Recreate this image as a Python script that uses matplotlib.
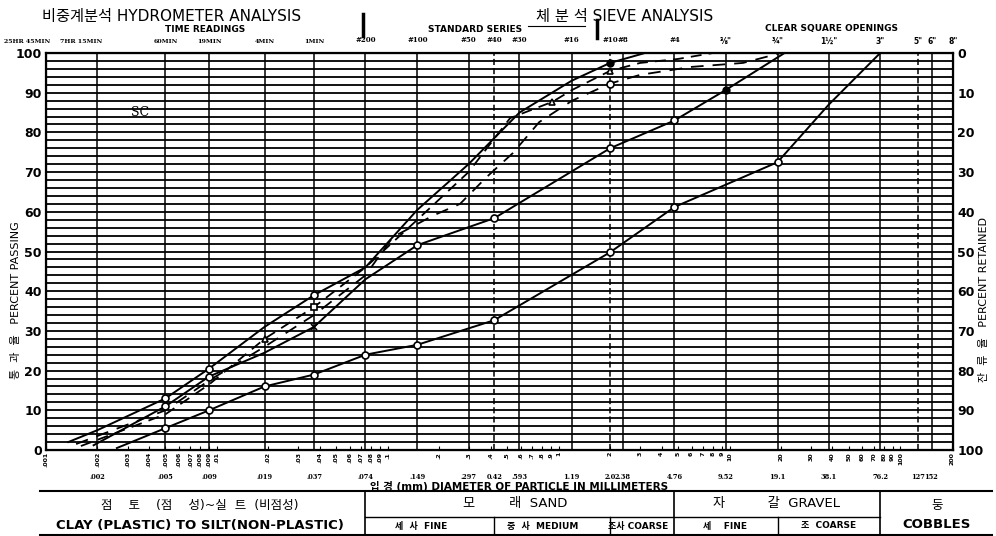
import numpy as np
import matplotlib.pyplot as plt
from matplotlib.lines import Line2D
from matplotlib.transforms import blended_transform_factory

plt.rcParams['font.family'] = ['DejaVu Sans', 'Noto Sans CJK KR']

W, H = 996, 536

# grain size curves: diameter (mm) -> percent passing
c1_d = [0.00135, 0.002, 0.005, 0.009, 0.019, 0.037, 0.074, 0.149, 0.297, 0.59, 1.19, 2.0, 3.2]
c1_p = [2, 5, 13, 20.5, 31, 39, 46, 60.5, 72, 85, 93, 97.5, 100]

c2_d = [0.0016, 0.005, 0.009, 0.019, 0.037, 0.074, 0.149, 0.297, 0.52, 0.92, 1.2, 2.0, 3.0, 5.0, 8.0]
c2_p = [1, 9, 16.5, 28, 36, 46, 58, 70, 83.6, 87.7, 90.7, 95.5, 97.5, 98.5, 100]

c3_d = [0.0015, 0.005, 0.009, 0.019, 0.037, 0.074, 0.107, 0.183, 0.265, 0.38, 0.54, 0.77,
        1.2, 2.0, 3.0, 6.0, 12.0, 20.0]
c3_p = [1.5, 10, 17.5, 26, 34, 44, 53.6, 59, 62, 68.8, 74.8, 82.6, 88, 92.3, 94.5, 96.5, 97.5, 100]

c4_d = [0.0019, 0.005, 0.009, 0.019, 0.037, 0.074, 0.149, 0.42, 2.0, 4.76, 9.52, 21]
c4_p = [1.2, 11, 18.5, 24.5, 31, 43, 51.6, 58.4, 76, 83, 90.7, 100]

c5_d = [0.0026, 0.005, 0.009, 0.019, 0.037, 0.074, 0.149, 0.42, 2.0, 4.76, 19.1, 38.1, 76.2]
c5_p = [0.5, 5.5, 10, 16, 19, 24, 26.5, 32.7, 49.8, 61.2, 72.5, 87, 100]

# marker indices on each curve
c1_mk = [2, 3, 5]
c1_filled = [11]
c2_tri = [3, 9, 11]
c2_sq = [4]
c3_mk = [13]
c4_mk = [1, 2, 6, 7, 8, 9]
c4_filled = [10]
c4_x = [4]
c5_mk = [1, 2, 3, 4, 5, 6, 7, 8, 9, 10]

# vertical grid lines (time readings / sieves / openings)
grid_d = [0.002, 0.005, 0.009, 0.019, 0.037, 0.074, 0.149, 0.297, 0.42, 0.59, 1.19, 2.0,
          2.38, 4.76, 9.52, 19.1, 38.1, 76.2, 127, 152.4]
dashed_d = [0.42, 2.0, 127]

time_d = [0.00078, 0.0016, 0.005, 0.009, 0.019, 0.037]
time_lbl = ['25HR 45MIN', '7HR 15MIN', '60MIN', '19MIN', '4MIN', '1MIN']
sieve_d = [0.074, 0.149, 0.297, 0.42, 0.59, 1.19, 2.0, 2.38, 4.76]
sieve_lbl = ['#200', '#100', '#50', '#40', '#30', '#16', '#10', '#8', '#4']
open_d = [9.52, 19.1, 38.1, 76.2, 127, 152.4, 203.2]
open_lbl = ['⅜"', '¾"', '1½"', '3"', '5"', '6"', '8"']

size_d = [0.002, 0.005, 0.009, 0.019, 0.037, 0.074, 0.149, 0.297, 0.42, 0.593, 1.19, 2.0,
          2.38, 4.76, 9.52, 19.1, 38.1, 76.2, 127, 152]
size_lbl = ['.002', '.005', '.009', '.019', '.037', '.074', '.149', '.297', '0.42', '.593',
            '1.19', '2.0', '2.38', '4.76', '9.52', '19.1', '38.1', '76.2', '127', '152']

fig = plt.figure(figsize=(W / 100, H / 100), dpi=100)
ax = fig.add_axes([46 / W, 1 - 450 / H, (953 - 46) / W, (450 - 53) / H])
ax.set_xscale('log')
ax.set_xlim(0.001, 203.2)
ax.set_ylim(0, 100)


def fx(x):
    return x / W


def fy(y):
    return 1 - y / H


for p in range(0, 101, 2):
    ax.axhline(p, color='k', lw=1.3, zorder=1)
for d in grid_d:
    ls = (0, (4, 2)) if d in dashed_d else '-'
    ax.axvline(d, color='k', lw=1.1, ls=ls, zorder=1)

for s in ax.spines.values():
    s.set_linewidth(1.6)

# log minor ticks with rotated labels
tk = []
for e in range(-3, 3):
    for m in range(1, 10):
        v = m * 10.0 ** e
        if v <= 203.2:
            tk.append(v)
lbls = [f'{v:g}'.lstrip('0') if v < 1 else f'{v:g}' for v in tk]
ax.xaxis.set_minor_locator(plt.NullLocator())
ax.set_xticks(tk)
ax.set_xticklabels(lbls, rotation=90, fontsize=4.5, fontweight='bold')
ax.tick_params(axis='x', direction='in', length=3, width=0.8, pad=1.5)

ax.set_yticks(range(0, 101, 10))
ax.set_yticklabels([str(v) for v in range(0, 101, 10)], fontsize=9, fontweight='bold')
ax.tick_params(axis='y', length=0, pad=3)

ax2 = ax.twinx()
ax2.set_ylim(100, 0)
ax2.set_yticks(range(0, 101, 10))
ax2.set_yticklabels([str(v) for v in range(0, 101, 10)], fontsize=9, fontweight='bold')
ax2.tick_params(axis='y', length=0, pad=3)

# curves
ax.plot(c1_d, c1_p, color='k', lw=1.4, zorder=3)
ax.plot(c2_d, c2_p, color='k', lw=1.3, ls=(0, (6, 4)), zorder=3)
ax.plot(c3_d, c3_p, color='k', lw=1.3, ls=(0, (7, 5)), zorder=3)
ax.plot(c4_d, c4_p, color='k', lw=1.4, zorder=3)
ax.plot(c5_d, c5_p, color='k', lw=1.4, zorder=3)

mk = dict(ls='none', mfc='white', mec='k', mew=1.2, ms=5, zorder=4)
ax.plot([c1_d[i] for i in c1_mk], [c1_p[i] for i in c1_mk], marker='o', **mk)
ax.plot([c1_d[i] for i in c1_filled], [c1_p[i] for i in c1_filled], marker='o',
        ls='none', color='k', ms=5, zorder=4)
ax.plot([c2_d[i] for i in c2_tri], [c2_p[i] for i in c2_tri], marker='^', **mk)
ax.plot([c2_d[i] for i in c2_sq], [c2_p[i] for i in c2_sq], marker='s', **mk)
ax.plot([c3_d[i] for i in c3_mk], [c3_p[i] for i in c3_mk], marker='o', **mk)
ax.plot([c4_d[i] for i in c4_mk], [c4_p[i] for i in c4_mk], marker='o', **mk)
ax.plot([c4_d[i] for i in c4_filled], [c4_p[i] for i in c4_filled], marker='o',
        ls='none', color='k', ms=5, zorder=4)
ax.plot([c4_d[i] for i in c4_x], [c4_p[i] for i in c4_x], marker='x', ls='none',
        color='k', ms=5, mew=1.2, zorder=4)
ax.plot([c5_d[i] for i in c5_mk], [c5_p[i] for i in c5_mk], marker='o', **mk)

ax.text(0.00354, 85, 'SC', fontsize=9, family='serif', ha='center', va='center')

# top labels
xt = ax.get_xaxis_transform()
for d, t in zip(time_d, time_lbl):
    ax.text(d, 1.022, t, transform=xt, ha='center', va='bottom', fontsize=4.5,
            family='serif', fontweight='bold', clip_on=False)
for d, t in zip(sieve_d, sieve_lbl):
    ax.text(d, 1.022, t, transform=xt, ha='center', va='bottom', fontsize=5,
            family='serif', fontweight='bold', clip_on=False)
for d, t in zip(open_d, open_lbl):
    ax.text(d, 1.018, t, transform=xt, ha='center', va='bottom', fontsize=5.5,
            fontweight='bold', clip_on=False)

# second row of diameters under the axis
for d, t in zip(size_d, size_lbl):
    ax.text(d, -0.068, t, transform=xt, ha='center', va='center', fontsize=4.8,
            family='serif', fontweight='bold', clip_on=False)

fig.text(fx(370), fy(486), '입 경 (mm) DIAMETER OF PARTICLE IN MILLIMETERS', fontsize=7.5,
         fontweight='bold', ha='left', va='center')

fig.text(fx(172), fy(16), '비중계분석 HYDROMETER ANALYSIS', fontsize=11, ha='center', va='center')
fig.text(fx(205), fy(29), 'TIME READINGS', fontsize=6.5, fontweight='bold', ha='center', va='center')
fig.text(fx(625), fy(16), '체 분 석 SIEVE ANALYSIS', fontsize=11, ha='center', va='center')
fig.add_artist(Line2D([fx(528), fx(585)], [fy(26), fy(26)], color='k', lw=0.8))
fig.text(fx(475), fy(30), 'STANDARD SERIES', fontsize=6.5, fontweight='bold', ha='center', va='center')
fig.text(fx(831), fy(29), 'CLEAR SQUARE OPENINGS', fontsize=6.5, fontweight='bold',
         ha='center', va='center')
fig.add_artist(Line2D([fx(363), fx(363)], [fy(14), fy(36)], color='k', lw=2.5))
fig.add_artist(Line2D([fx(597), fx(597)], [fy(20), fy(38)], color='k', lw=2.5))

fig.text(fx(16), fy(300), '통  과  율   PERCENT PASSING', fontsize=8, rotation=90,
         ha='center', va='center')
fig.text(fx(984), fy(300), '잔  류  율   PERCENT RETAINED', fontsize=8, rotation=90,
         ha='center', va='center')

# classification table
bt = blended_transform_factory(ax.transData, fig.transFigure)
fig.add_artist(Line2D([fx(40), fx(992)], [fy(491), fy(491)], color='k', lw=1.5))
fig.add_artist(Line2D([fx(40), fx(992)], [fy(535), fy(535)], color='k', lw=1.5))
ax.add_artist(Line2D([0.074, 76.2], [fy(517), fy(517)], transform=bt, color='k', lw=1.0,
                     clip_on=False))
for d in [0.074, 4.76, 76.2]:
    ax.add_artist(Line2D([d, d], [fy(491), fy(536)], transform=bt, color='k', lw=1.2,
                         clip_on=False))
for d in [0.42, 2.0, 19.1]:
    ax.add_artist(Line2D([d, d], [fy(517), fy(536)], transform=bt, color='k', lw=1.0,
                         clip_on=False))

fig.text(fx(200), fy(505), '점    토    (점    성)~실  트  (비점성)', fontsize=9,
         ha='center', va='center')
fig.text(fx(200), fy(526), 'CLAY (PLASTIC) TO SILT(NON-PLASTIC)', fontsize=9.5,
         fontweight='bold', ha='center', va='center')
fig.text(fx(515), fy(504), '모        래  SAND', fontsize=9.5, ha='center', va='center')
fig.text(fx(776), fy(504), '자          갈  GRAVEL', fontsize=9.5, ha='center', va='center')
fig.text(fx(937), fy(505), '둥', fontsize=9, ha='center', va='center')
fig.text(fx(937), fy(525), 'COBBLES', fontsize=9.5, fontweight='bold', ha='center', va='center')
fig.text(fx(421), fy(526), '세  사  FINE', fontsize=6.5, fontweight='bold', ha='center', va='center')
fig.text(fx(543), fy(526), '중  사  MEDIUM', fontsize=6.5, fontweight='bold', ha='center',
         va='center')
fig.text(fx(638), fy(526), '조사 COARSE', fontsize=6.5, fontweight='bold', ha='center', va='center')
fig.text(fx(725), fy(526), '세    FINE', fontsize=6.5, fontweight='bold', ha='center', va='center')
fig.text(fx(829), fy(526), '조  COARSE', fontsize=6.5, fontweight='bold', ha='center', va='center')

fig.savefig('out.png', dpi=100)
